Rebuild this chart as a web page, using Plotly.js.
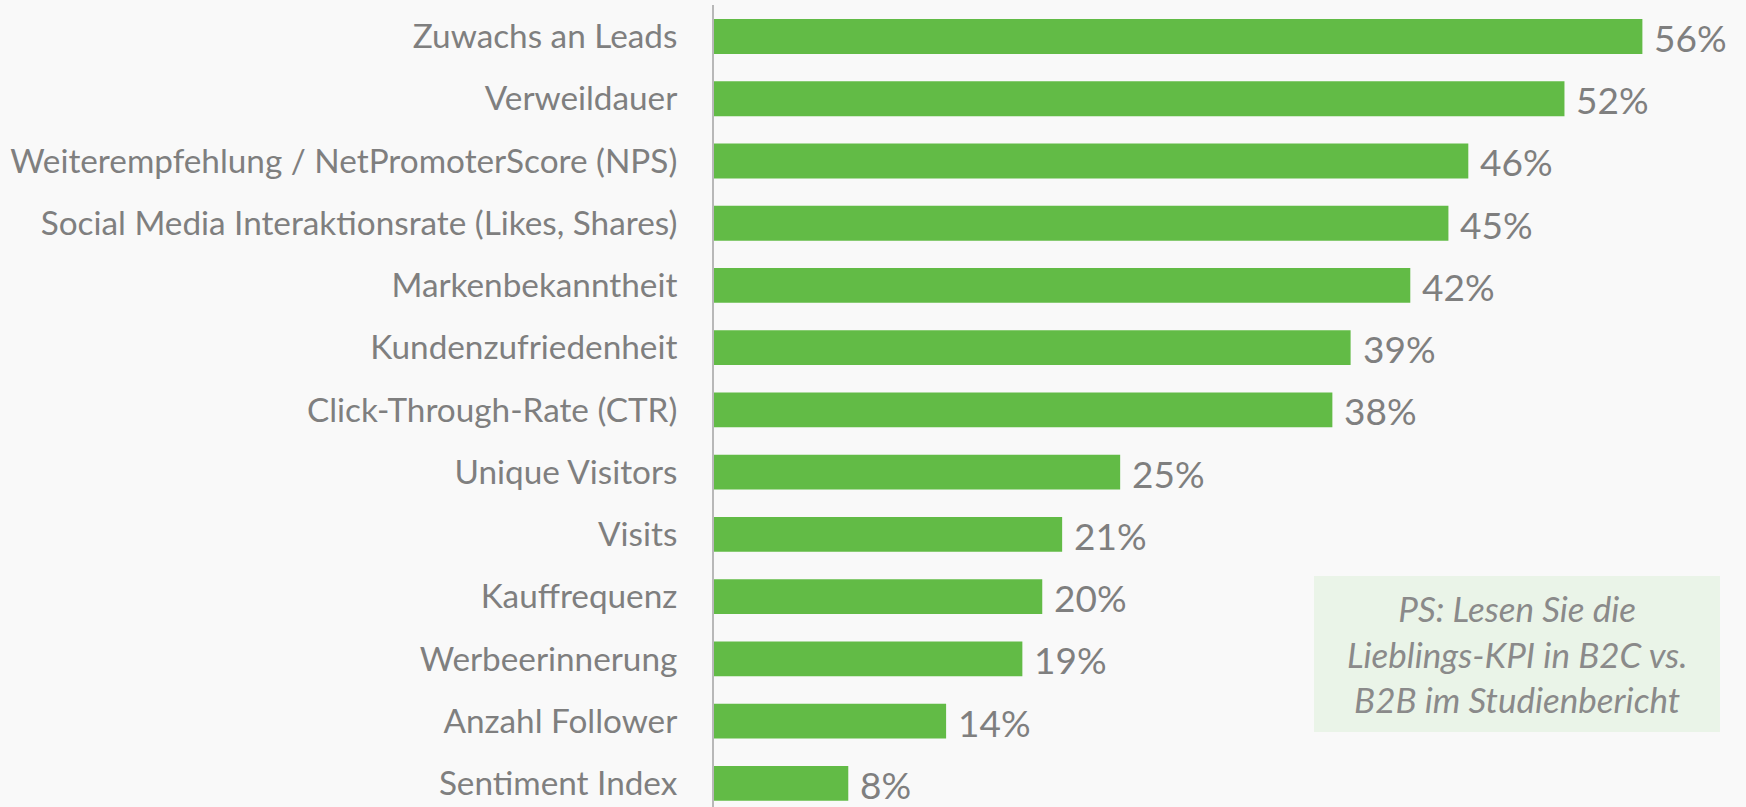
<!DOCTYPE html>
<html>
<head>
<meta charset="utf-8">
<script src="https://cdn.plot.ly/plotly-3.0.1.min.js"></script>
<style>html,body{margin:0;padding:0;background:#f9f9f9;}#chart{width:1746px;height:807px;}</style>
</head>
<body>
<div id="chart"></div>
<script>
const categories = [
  "Zuwachs an Leads",
  "Verweildauer",
  "Weiterempfehlung / NetPromoterScore (NPS)",
  "Social Media Interaktionsrate (Likes, Shares)",
  "Markenbekanntheit",
  "Kundenzufriedenheit",
  "Click-Through-Rate (CTR)",
  "Unique Visitors",
  "Visits",
  "Kauffrequenz",
  "Werbeerinnerung",
  "Anzahl Follower",
  "Sentiment Index"
];
const values = [56, 51.3, 45.5, 44.3, 42, 38.4, 37.3, 24.5, 21, 19.8, 18.6, 14, 8.1];
const valueLabels = ["56%", "52%", "46%", "45%", "42%", "39%", "38%", "25%", "21%", "20%", "19%", "14%", "8%"];
const noteText = "PS: Lesen Sie die<br>Lieblings-KPI in B2C vs.<br>B2B im Studienbericht";

const FONT = "Lato, 'Open Sans', sans-serif";
const GRAY = "#7f7f7f";

const trace = {
  type: "bar",
  orientation: "h",
  x: values,
  y: categories,
  marker: {color: "#62bb46", line: {width: 0}},
  hoverinfo: "none"
};

const annotations = categories.map((c, i) => ({
  x: values[i], y: c, xref: "x", yref: "y",
  text: valueLabels[i], showarrow: false,
  xanchor: "left", yanchor: "middle", xshift: 10, yshift: -1,
  font: {family: FONT, size: 37, color: GRAY}
}));
annotations.push({
  x: 0.778, y: 0.1908, xref: "paper", yref: "paper",
  text: noteText, showarrow: false, xanchor: "center", yanchor: "middle",
  align: "center",
  font: {family: FONT, size: 35, color: "#8a8a8a", style: "italic"}
});

const layout = {
  width: 1746, height: 807,
  paper_bgcolor: "#f9f9f9", plot_bgcolor: "#f9f9f9",
  margin: {l: 714, r: 0, t: 5, b: 0, pad: 0},
  bargap: 0.44,
  showlegend: false,
  xaxis: {range: [0, 62.25], showgrid: false, zeroline: false, showticklabels: false, ticks: "", showline: false},
  yaxis: {
    range: [12.38, -0.506], type: "category",
    showgrid: false, zeroline: false, ticks: "",
    showline: true, linecolor: "#b8b8b8", linewidth: 2,
    ticklabelstandoff: 28,
    tickfont: {family: FONT, size: 33.3, color: GRAY}
  },
  shapes: [{
    type: "rect", xref: "paper", yref: "paper",
    x0: 0.5814, x1: 0.9748, y0: 0.0935, y1: 0.288,
    fillcolor: "#eaf4e8", line: {width: 0}, layer: "below"
  }],
  annotations: annotations
};

Plotly.newPlot("chart", [trace], layout, {displayModeBar: false, staticPlot: true});
</script>
</body>
</html>
